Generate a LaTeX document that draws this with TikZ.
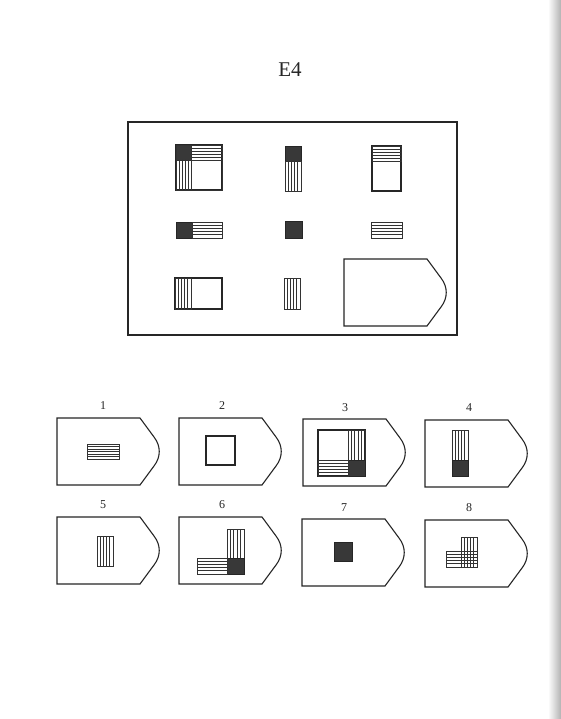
\documentclass[tikz,border=0pt]{standalone}
\usepackage{tikz}
\usetikzlibrary{calc}
\usepackage{fontspec}
\setmainfont{Liberation Serif}

\tikzset{
  trait/.style={line width=1.1pt,draw=black!85},
  fin/.style={line width=0.7pt,draw=black!80},
  plein/.style={fill=black!78,draw=black!85,line width=0.6pt},
  numero/.style={font=\fontsize{12}{14}\selectfont,text=black!85},
}

% bandes horizontales : x1,y1,x2,y2,nombre
\newcommand{\hbandes}[5]{%
  \draw[fin] (#1,#2) rectangle (#3,#4);
  \foreach \k in {1,...,#5}
    \draw[fin] (#1,{#2+\k*(#4-#2)/#5}) -- (#3,{#2+\k*(#4-#2)/#5});
}
% bandes verticales : x1,y1,x2,y2,nombre
\newcommand{\vbandes}[5]{%
  \draw[fin] (#1,#2) rectangle (#3,#4);
  \foreach \k in {1,...,#5}
    \draw[fin] ({#1+\k*(#3-#1)/#5},#2) -- ({#1+\k*(#3-#1)/#5},#4);
}
% plaque (forme de reponse)
\newcommand{\plaque}[2]{%
  \begin{scope}[shift={(#1,#2)}]
    \draw[trait] (0,0) -- (83,0) -- (97,19) .. controls (104,28) and (104,39) .. (97,48) -- (83,67) -- (0,67) -- cycle;
  \end{scope}}

\begin{document}
\begin{tikzpicture}[x=1pt,y=-1pt]
\useasboundingbox (0,0) rectangle (561,719);
\fill[white] (0,0) rectangle (561,719);
\shade[left color=white,right color=black!30] (548,0) rectangle (561,719);

% Titre
\node[font=\fontsize{21}{25}\selectfont,text=black!85] (titre) at (290,70) {E4};

% Matrice
\draw[trait] (128,122) rectangle (457,335);

% ligne 1
\draw[trait] (176,145) rectangle (222,190);
\fill[plein] (176,145) rectangle (191,160);
\hbandes{191}{145}{222}{160}{5}
\vbandes{176}{160}{191}{190}{5}
\draw[fin] (176,145) rectangle (222,190);

\fill[plein] (285,146) rectangle (301,161);
\vbandes{285}{161}{301}{191}{5}

\draw[trait] (372,146) rectangle (401,191);
\hbandes{372}{146}{401}{161}{5}

% ligne 2
\fill[plein] (176,222) rectangle (192,238);
\hbandes{192}{222}{222}{238}{5}

\fill[plein] (285,221) rectangle (302,238);

\hbandes{371}{222}{402}{238}{5}

% ligne 3
\draw[trait] (175,278) rectangle (222,309);
\vbandes{175}{278}{191}{309}{5}

\vbandes{284}{278}{300}{309}{5}

\plaque{344}{259}

% Reponses
\node[numero] (n1) at (103,406) {1};
\plaque{57}{418}
\hbandes{87}{444}{119}{459}{6}

\node[numero] (n2) at (222,406) {2};
\plaque{179}{418}
\draw[trait] (206,436) rectangle (235,465);

\node[numero] (n3) at (345,408) {3};
\plaque{303}{419}
\draw[trait] (318,430) rectangle (365,476);
\vbandes{348}{430}{365}{460}{5}
\fill[plein] (348,460) rectangle (365,476);
\hbandes{318}{460}{348}{476}{5}

\node[numero] (n4) at (469,408) {4};
\plaque{425}{420}
\vbandes{452}{430}{468}{460}{5}
\fill[plein] (452,460) rectangle (468,476);

\node[numero] (n5) at (103,505) {5};
\plaque{57}{517}
\vbandes{97}{536}{113}{566}{5}

\node[numero] (n6) at (222,505) {6};
\plaque{179}{517}
\vbandes{227}{529}{244}{558}{5}
\fill[plein] (227,558) rectangle (244,574);
\hbandes{197}{558}{227}{574}{5}

\node[numero] (n7) at (344,508) {7};
\plaque{302}{519}
\fill[plein] (334,542) rectangle (352,561);

\node[numero] (n8) at (469,508) {8};
\plaque{425}{520}
\vbandes{461}{537}{477}{567}{5}
\hbandes{446}{551}{477}{567}{5}
\end{tikzpicture}
\end{document}
